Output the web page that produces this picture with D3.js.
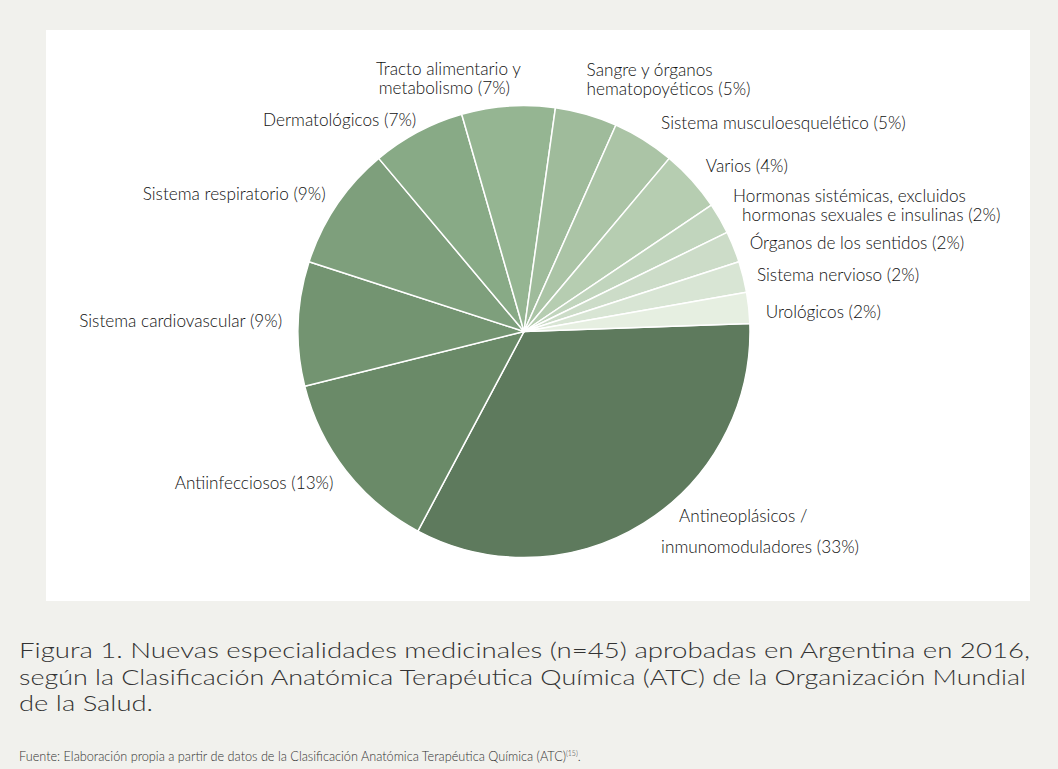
<!DOCTYPE html>
<html lang="es">
<head>
  <meta charset="UTF-8">
  <title>Figura 1</title>
  <script src="https://d3js.org/d3.v7.min.js"></script>
  <style>
    body { margin: 0; background: #f1f1ed; }
    svg text { font-family: Lato, "Open Sans", sans-serif; font-weight: 300; }
    .lbl { font-size: 17.2px; fill: #111; }
    .cap { font-size: 22px; fill: #333; }
    .src { font-size: 12.7px; fill: #333; }
  </style>
</head>
<body>
  <svg id="chart" width="1058" height="769"></svg>
  <script>
    // counts of new products per ATC group (n = 45), clockwise from 3 o'clock
    const categories = [
      "Antineoplásicos / inmunomoduladores",
      "Antiinfecciosos",
      "Sistema cardiovascular",
      "Sistema respiratorio",
      "Dermatológicos",
      "Tracto alimentario y metabolismo",
      "Sangre y órganos hematopoyéticos",
      "Sistema musculoesquelético",
      "Varios",
      "Hormonas sistémicas, excluidos hormonas sexuales e insulinas",
      "Órganos de los sentidos",
      "Sistema nervioso",
      "Urológicos"
    ];
    const counts = [15, 6, 4, 4, 3, 3, 2, 2, 2, 1, 1, 1, 1];
    const pctLabels = ["33%", "13%", "9%", "9%", "7%", "7%", "5%", "5%", "4%", "2%", "2%", "2%", "2%"];
    // label text as printed, split in lines
    const labelLines = [
      ["Antineoplásicos /", "inmunomoduladores (33%)"],
      ["Antiinfecciosos (13%)"],
      ["Sistema cardiovascular (9%)"],
      ["Sistema respiratorio (9%)"],
      ["Dermatológicos (7%)"],
      ["Tracto alimentario y", "metabolismo (7%)"],
      ["Sangre y órganos", "hematopoyéticos (5%)"],
      ["Sistema musculoesquelético (5%)"],
      ["Varios (4%)"],
      ["Hormonas sistémicas, excluidos", "hormonas sexuales e insulinas (2%)"],
      ["Órganos de los sentidos (2%)"],
      ["Sistema nervioso (2%)"],
      ["Urológicos (2%)"]
    ];
    const colors = ["#5e7a5d", "#6a8a68", "#739471", "#7e9f7c", "#88aa86", "#95b592", "#9fbb9b",
                    "#abc4a6", "#b6cdb1", "#c1d5bd", "#ccdcc8", "#d8e5d4", "#e6efe1"];
    const captionLines = [
      "Figura 1. Nuevas especialidades medicinales (n=45) aprobadas en Argentina en 2016,",
      "según la Clasificación Anatómica Terapéutica Química (ATC) de la Organización Mundial",
      "de la Salud."
    ];
    const captionWidths = [1011, 1007, 134];
    const sourceText = "Fuente: Elaboración propia a partir de datos de la Clasificación Anatómica Terapéutica Química (ATC)";
    const sourceRef = "(15)";

    // label placement tweaks: [dx, dy of first line, anchor, indents per line, line gap]
    const labelTweak = [
      [11, -17, "start", [18, 0], 31],
      [-3, 5, "end", [0], 0],
      [-4, -2, "end", [0], 0],
      [-1, -4, "end", [0], 0],
      [4, -1, "end", [0], 0],
      [-61, -25, "middle", [2, -2], 19],
      [-3, -33, "start", [0, 0], 19],
      [11, -7, "start", [0], 0],
      [5, -6, "start", [0], 0],
      [3, -17, "start", [0, 9], 19],
      [5, 1, "start", [0], 0],
      [2, 1, "start", [0], 0],
      [5, 5, "start", [0], 0]
    ];

    const svg = d3.select("#chart");
    const cx = 524, cy = 331.5, r = 226;

    svg.append("rect").attr("width", 1058).attr("height", 769).attr("fill", "#f1f1ed");
    svg.append("rect").attr("x", 46).attr("y", 30).attr("width", 984).attr("height", 571).attr("fill", "#fff");

    const data = categories.map((c, i) => ({name: c, value: counts[i], pct: pctLabels[i], lines: labelLines[i], i}));

    const startA = 88 * Math.PI / 180;
    const pie = d3.pie().sort(null).value(d => d.value)
      .startAngle(startA).endAngle(startA + 2 * Math.PI);
    const arc = d3.arc().innerRadius(0).outerRadius(r);
    const labelArc = d3.arc().innerRadius(r + 12).outerRadius(r + 12);

    const g = svg.append("g").attr("transform", `translate(${cx},${cy})`);
    const arcs = pie(data);

    g.selectAll("path")
      .data(arcs)
      .join("path")
      .attr("d", arc)
      .attr("fill", d => colors[d.data.i])
      .attr("stroke", "#fff")
      .attr("stroke-width", 1.5)
      .attr("stroke-linejoin", "round");

    const labels = g.selectAll("text.lbl")
      .data(arcs)
      .join("text")
      .attr("class", "lbl")
      .attr("text-anchor", d => labelTweak[d.data.i][2])
      .attr("transform", d => {
        const [x, y] = labelArc.centroid(d);
        const t = labelTweak[d.data.i];
        return `translate(${x + t[0]},${y + t[1]})`;
      });

    labels.each(function(d) {
      const t = labelTweak[d.data.i];
      d3.select(this).selectAll("tspan")
        .data(d.data.lines)
        .join("tspan")
        .attr("x", (l, j) => t[3][j])
        .attr("y", (l, j) => j * t[4])
        .attr("dy", "0.35em")
        .text(l => l);
    });

    svg.selectAll("text.cap")
      .data(captionLines)
      .join("text")
      .attr("class", "cap")
      .attr("x", 19)
      .attr("y", (d, i) => 658 + i * 26.7)
      .attr("textLength", (d, i) => captionWidths[i])
      .attr("lengthAdjust", "spacingAndGlyphs")
      .text(d => d);

    const src = svg.append("text").attr("class", "src").attr("x", 19).attr("y", 761);
    src.append("tspan").text(sourceText);
    src.append("tspan").attr("font-size", "7px").attr("dy", "-5").text(sourceRef);
    src.append("tspan").attr("dy", "5").text(".");
  </script>
</body>
</html>
